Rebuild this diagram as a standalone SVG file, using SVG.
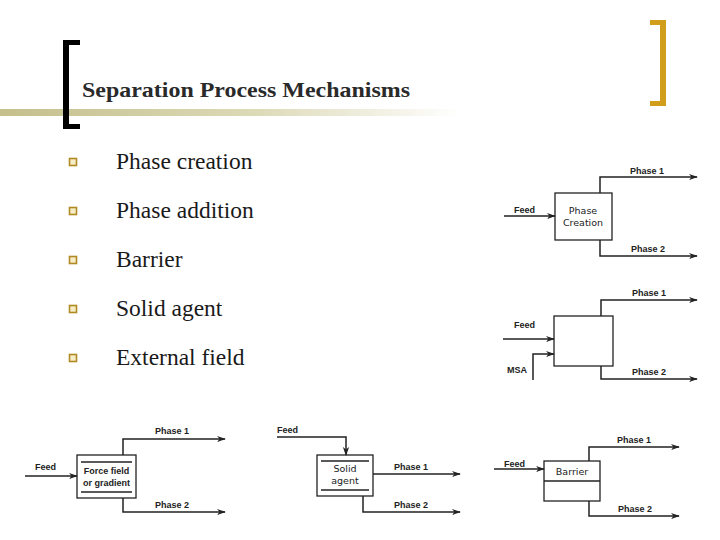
<svg xmlns="http://www.w3.org/2000/svg" width="720" height="540" viewBox="0 0 720 540">
<defs>
  <linearGradient id="bar" x1="0" y1="0" x2="1" y2="0">
    <stop offset="0" stop-color="#c4bf8c"/>
    <stop offset="0.55" stop-color="#dcd9b6"/>
    <stop offset="1" stop-color="#ffffff"/>
  </linearGradient>
  <marker id="arr" viewBox="0 0 10 10" refX="9" refY="5" markerWidth="9" markerHeight="9" markerUnits="userSpaceOnUse" orient="auto">
    <path d="M0,1.5 L10,5 L0,8.5 L3,5 Z" fill="#222"/>
  </marker>
</defs>
<style>
  .title { font-family: "Liberation Serif", "Times New Roman", serif; font-size: 21px; font-weight: bold; fill: #2a2a2a; }
  .item { font-family: "Liberation Serif", "Times New Roman", serif; font-size: 23.5px; fill: #1a1a1a; }
  .bul { fill: #f6ecc6; stroke: #b08a22; stroke-width: 1.6; }
  .lbl { font-family: "Liberation Sans", Arial, sans-serif; font-size: 9px; font-weight: bold; fill: #222; }
  .lblr { font-family: "DejaVu Sans", "Liberation Sans", sans-serif; font-size: 9.5px; fill: #222; }
  .box { fill: #ffffff; stroke: #222; stroke-width: 1.3; }
  .ln { fill: none; stroke: #222; stroke-width: 1.5; }
  .flow { fill: none; stroke: #222; stroke-width: 1.5; marker-end: url(#arr); }
</style>
<rect width="720" height="540" fill="#ffffff"/>

<!-- header -->
<g id="header">
  <rect x="0" y="109" width="460" height="7" fill="url(#bar)"/>
  <path d="M80,40 H63 V129 H80 V124 H69 V45 H80 Z" fill="#000"/>
  <path d="M650,20 H666 V106 H650 V101 H660 V25 H650 Z" fill="#d09e1a"/>
  <text class="title" x="82" y="97" textLength="328" lengthAdjust="spacingAndGlyphs">Separation Process Mechanisms</text>
</g>

<!-- bullet list -->
<g id="list">
  <rect class="bul" x="69.5" y="158.5" width="7" height="7"/>
  <text class="item" x="116" y="169">Phase creation</text>
  <rect class="bul" x="69.5" y="207.5" width="7" height="7"/>
  <text class="item" x="116" y="218">Phase addition</text>
  <rect class="bul" x="69.5" y="256.5" width="7" height="7"/>
  <text class="item" x="116" y="267">Barrier</text>
  <rect class="bul" x="69.5" y="305.5" width="7" height="7"/>
  <text class="item" x="116" y="316">Solid agent</text>
  <rect class="bul" x="69.5" y="354.5" width="7" height="7"/>
  <text class="item" x="116" y="365">External field</text>
</g>

<!-- nodes -->
<g id="phase-creation">
  <rect class="box" x="555" y="193" width="57" height="47"/>
  <text class="lblr" x="583" y="214" text-anchor="middle">Phase</text>
  <text class="lblr" x="583" y="226" text-anchor="middle">Creation</text>
  <text class="lbl" x="514" y="213">Feed</text>
  <text class="lbl" x="630" y="174">Phase 1</text>
  <text class="lbl" x="631" y="252">Phase 2</text>
</g>

<g id="phase-addition">
  <rect class="box" x="554" y="316" width="59" height="50"/>
  <text class="lbl" x="514" y="328">Feed</text>
  <text class="lbl" x="507" y="373">MSA</text>
  <text class="lbl" x="632" y="296">Phase 1</text>
  <text class="lbl" x="632" y="375">Phase 2</text>
</g>

<g id="external-field">
  <rect class="box" x="77" y="455" width="59" height="43"/>
  <line class="ln" x1="81" y1="462" x2="132" y2="462" stroke-width="1"/>
  <line class="ln" x1="81" y1="492" x2="132" y2="492" stroke-width="1"/>
  <text class="lbl" x="106.5" y="474" text-anchor="middle">Force field</text>
  <text class="lbl" x="106.5" y="486" text-anchor="middle">or gradient</text>
  <text class="lbl" x="35" y="470">Feed</text>
  <text class="lbl" x="155" y="434">Phase 1</text>
  <text class="lbl" x="155" y="508">Phase 2</text>
</g>

<g id="solid-agent">
  <rect class="box" x="317" y="455" width="56" height="41"/>
  <line class="ln" x1="321" y1="461" x2="369" y2="461" stroke-width="1"/>
  <line class="ln" x1="321" y1="490" x2="369" y2="490" stroke-width="1"/>
  <text class="lblr" x="345" y="472" text-anchor="middle">Solid</text>
  <text class="lblr" x="345" y="484" text-anchor="middle">agent</text>
  <text class="lbl" x="277" y="433">Feed</text>
  <text class="lbl" x="394" y="470">Phase 1</text>
  <text class="lbl" x="394" y="508">Phase 2</text>
</g>

<g id="barrier">
  <rect class="box" x="544" y="461" width="56" height="40"/>
  <line class="ln" x1="544" y1="481" x2="600" y2="481" stroke-width="1.2"/>
  <text class="lblr" x="572" y="475" text-anchor="middle">Barrier</text>
  <text class="lbl" x="504" y="467">Feed</text>
  <text class="lbl" x="617" y="443">Phase 1</text>
  <text class="lbl" x="618" y="512">Phase 2</text>
</g>

<!-- connectors -->
<g id="connectors">
  <!-- phase creation -->
  <path class="flow" d="M504,216 H555"/>
  <path class="flow" d="M600,193 V177 H697"/>
  <path class="flow" d="M600,240 V256 H697"/>
  <!-- phase addition -->
  <path class="flow" d="M503,339 H554"/>
  <path class="flow" d="M533,380 V354 H554"/>
  <path class="flow" d="M601,316 V300 H697"/>
  <path class="flow" d="M601,366 V379 H697"/>
  <!-- external field -->
  <path class="flow" d="M25,476 H77"/>
  <path class="flow" d="M123,455 V439 H225"/>
  <path class="flow" d="M123,498 V512 H225"/>
  <!-- solid agent -->
  <path class="flow" d="M277,437 H346 V455"/>
  <path class="flow" d="M373,474 H460"/>
  <path class="flow" d="M363,496 V512 H460"/>
  <!-- barrier -->
  <path class="flow" d="M494,469 H544"/>
  <path class="flow" d="M589,461 V447 H679"/>
  <path class="flow" d="M589,501 V516 H679"/>
</g>
</svg>
